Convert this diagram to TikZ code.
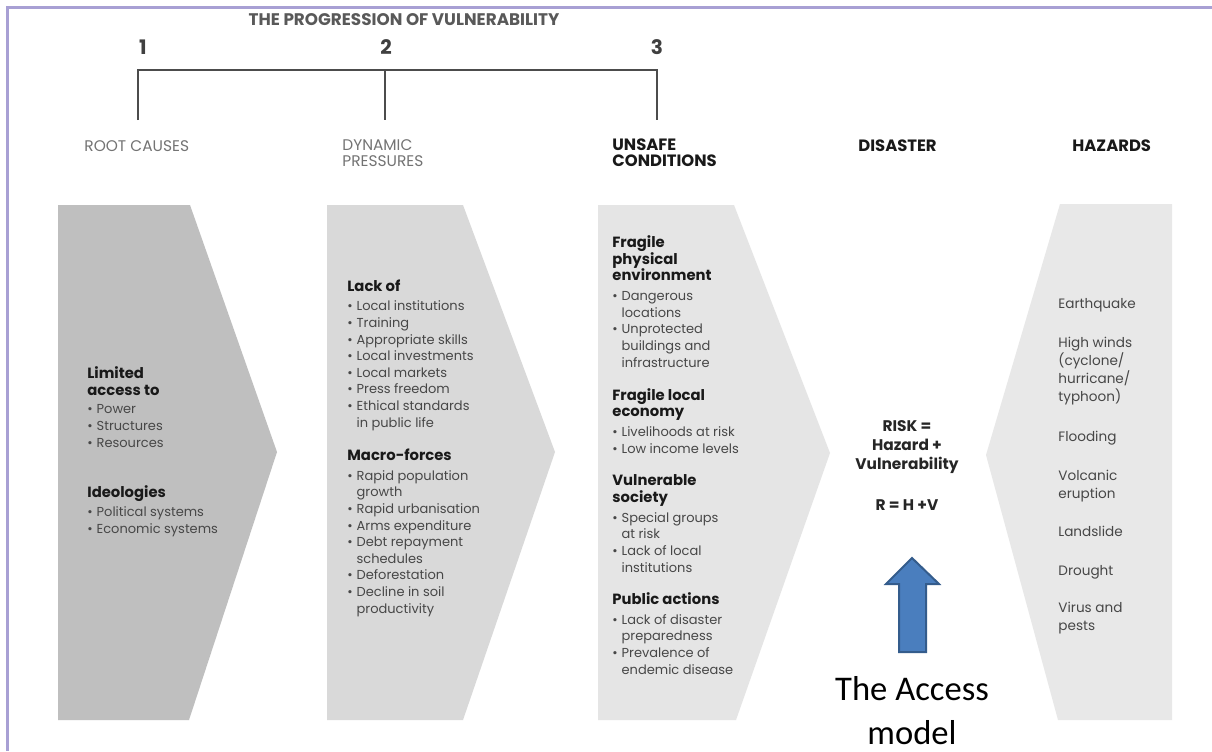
\documentclass[tikz,border=0pt]{standalone}
\usepackage{fontspec}
\setmainfont{Poppins}
\newfontfamily\calfont{Carlito}
\definecolor{framelav}{RGB}{168,160,212}
\definecolor{arrowblue}{RGB}{74,126,190}
\definecolor{arrowedge}{RGB}{52,92,140}
\newcommand\bul{\textbullet\hspace{0.3em}}
\newcommand\ctd{\hphantom{\textbullet\hspace{0.3em}}}
\newcommand\hd{\fontsize{7.4}{8.3}\selectfont\bfseries\color{black!90}}

\begin{document}
\begin{tikzpicture}[x=0.5pt,y=-0.5pt,
  body/.style={anchor=base west,align=left,inner sep=0pt,text=black!72,font=\fontsize{6.5}{8.3}\selectfont},
  stage/.style={anchor=base west,align=left,inner sep=0pt,text=black!90,font=\fontsize{8.2}{7.6}\selectfont\bfseries},
  thin/.style={anchor=base west,align=left,inner sep=0pt,text=black!55,font=\fontsize{7.7}{7.6}\selectfont},
  num/.style={anchor=base,inner sep=0pt,text=black!75,font=\fontsize{10}{10}\selectfont\bfseries},
  haz/.style={anchor=base west,align=left,inner sep=0pt,text=black!72,font=\fontsize{6.8}{9}\selectfont}]
  \useasboundingbox[fill=white] (0,0) rectangle (1212,751);
  \draw[draw=framelav,line width=1.5] (7,751) -- (7,7) -- (1212,7);

  % shaded stages
  \path[fill=black!25] (58,205) -- (190,205) -- (277,452) -- (189,720) -- (58,720) -- cycle;
  \path[fill=black!15] (327,205) -- (463,205) -- (555,452) -- (463,720) -- (327,720) -- cycle;
  \path[fill=black!10] (598,205) -- (734,205) -- (830,453) -- (736,720) -- (598,720) -- cycle;
  \path[fill=black!9] (1060,204) -- (1172,204) -- (1172,720) -- (1058,720) -- (986,455) -- cycle;

  % progression bracket
  \node[anchor=base,inner sep=0pt,text=black!65,font=\fontsize{8.4}{8}\selectfont\bfseries] (title) at (404,25) {THE PROGRESSION OF VULNERABILITY};
  \node[num] (n1) at (143,54) {1};
  \node[num] (n2) at (386,54) {2};
  \node[num] (n3) at (657,54) {3};
  \coordinate (b1) at (138,70);
  \coordinate (b2) at (385,70);
  \coordinate (b3) at (657,70);
  \coordinate (e1) at (138,120);
  \coordinate (e2) at (385,120);
  \coordinate (e3) at (657,120);
  \draw[black!70,line width=1.2] (e1) -- (b1) -- (b3) -- (e3);
  \draw[black!70,line width=1.2] (b2) -- (e2);

  \node[thin] (root) at (84,151) {ROOT CAUSES};
  \node[thin] (dyn) at (342,166) {DYNAMIC\\PRESSURES};
  \node[stage] (unsafe) at (612,166) {UNSAFE\\CONDITIONS};
  \node[stage] (dis) at (858,151) {DISASTER};
  \node[stage] (hazh) at (1072,151) {HAZARDS};

  % root causes
  \node[body] (limit) at (87,447) {{\hd Limited}\\{\hd access to}\\[1pt]\bul Power\\\bul Structures\\\bul Resources};
  \node[body] (ideo) at (87,533) {{\hd Ideologies}\\[1pt]\bul Political systems\\\bul Economic systems};

  % dynamic pressures
  \node[body] (lack) at (347,427) {{\hd Lack of}\\[1.6pt]\bul Local institutions\\\bul Training\\\bul Appropriate skills\\\bul Local investments\\\bul Local markets\\\bul Press freedom\\\bul Ethical standards\\\ctd in public life};
  \node[body] (macro) at (347,613) {{\hd Macro-forces}\\[1.6pt]\bul Rapid population\\\ctd growth\\\bul Rapid urbanisation\\\bul Arms expenditure\\\bul Debt repayment\\\ctd schedules\\\bul Deforestation\\\bul Decline in soil\\\ctd productivity};

  % unsafe conditions
  \node[body] (phys) at (612,367) {{\hd Fragile}\\{\hd physical}\\{\hd environment}\\[1.6pt]\bul Dangerous\\\ctd locations\\\bul Unprotected\\\ctd buildings and\\\ctd infrastructure};
  \node[body] (econ) at (612,453) {{\hd Fragile local}\\{\hd economy}\\[1.6pt]\bul Livelihoods at risk\\\bul Low income levels};
  \node[body] (soc) at (612,572) {{\hd Vulnerable}\\{\hd society}\\[1.6pt]\bul Special groups\\\ctd at risk\\\bul Lack of local\\\ctd institutions};
  \node[body] (pub) at (612,674) {{\hd Public actions}\\[1.6pt]\bul Lack of disaster\\\ctd preparedness\\\bul Prevalence of\\\ctd endemic disease};

  % disaster
  \node[anchor=base,align=center,inner sep=0pt,text=black!85,font=\fontsize{7.7}{9.5}\selectfont\bfseries] (risk) at (907,469) {RISK =\\Hazard +\\Vulnerability};
  \node[anchor=base,inner sep=0pt,text=black!85,font=\fontsize{7.7}{9.5}\selectfont\bfseries] (rhv) at (907,510) {R = H +V};
  \path[draw=arrowedge,fill=arrowblue,line width=1] (899,652) -- (899,584) -- (886,584) -- (912,558) -- (939,584) -- (926,584) -- (926,652) -- cycle;
  \node[anchor=base,align=center,inner sep=0pt,font=\calfont\fontsize{17.3}{22}\selectfont] (access) at (912,744) {The Access\\model};

  % hazards
  \node[haz] (h1) at (1058,308) {Earthquake};
  \node[haz] (h2) at (1058,401) {High winds\\(cyclone/\\hurricane/\\typhoon)};
  \node[haz] (h3) at (1058,441) {Flooding};
  \node[haz] (h4) at (1058,498) {Volcanic\\eruption};
  \node[haz] (h5) at (1058,536) {Landslide};
  \node[haz] (h6) at (1058,575) {Drought};
  \node[haz] (h7) at (1058,630) {Virus and\\pests};
\end{tikzpicture}
\end{document}
